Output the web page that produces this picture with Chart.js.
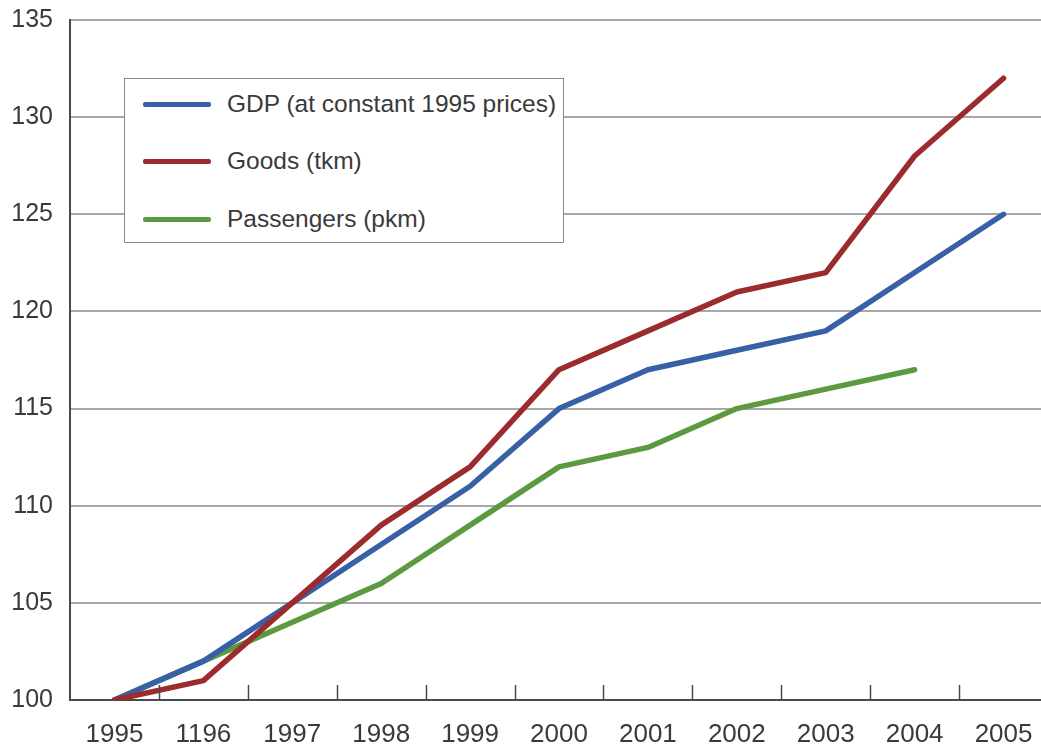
<!DOCTYPE html>
<html>
<head>
<meta charset="utf-8">
<script src="https://cdn.jsdelivr.net/npm/chart.js@4/dist/chart.umd.min.js"></script>
<style>
  body { margin: 0; background: #fff; overflow: hidden; }
  #wrap { position: relative; width: 1041px; height: 749px; overflow: hidden; }
  #leyenda {
    position: absolute; left: 124px; top: 78px; width: 438px; height: 163px;
    background: #fff; border: 1.5px solid #8a8a8a;
    font-family: "Liberation Sans", Arial, sans-serif; font-size: 24.5px; color: #3a3a3a;
  }
  .item { position: absolute; left: 0; height: 30px; display: flex; align-items: center; }
  .muestra { width: 68px; height: 5px; margin-left: 18px; margin-right: 16px; border-radius: 2px; }
</style>
</head>
<body>
<div id="wrap">
  <canvas id="grafico" width="1060" height="749"></canvas>
  <div id="leyenda"></div>
</div>
<script>
// Datos
const anios = ['1995', '1196', '1997', '1998', '1999', '2000', '2001', '2002', '2003', '2004', '2005'];
const gdp = [100, 102, 105, 108, 111, 115, 117, 118, 119, 122, 125];
const goods = [100, 101, 105, 109, 112, 117, 119, 121, 122, 128, 132];
const passengers = [100, 102, 104, 106, 109, 112, 113, 115, 116, 117, null];
const nombres = ['GDP (at constant 1995 prices)', 'Goods (tkm)', 'Passengers (pkm)'];
const colores = ['#3760a6', '#9c2b2e', '#5c9a41'];
const yMin = 100, yMax = 135, yPaso = 5;

// Marcas de eje hacia dentro, entre categorias
const marcasInternas = {
  id: 'marcasInternas',
  afterDraw(chart) {
    const x = chart.scales.x;
    const ctx = chart.ctx;
    const abajo = chart.chartArea.bottom;
    ctx.save();
    ctx.strokeStyle = '#4a4a4a';
    ctx.lineWidth = 1.5;
    for (let i = 1; i < x.ticks.length; i++) {
      const px = Math.round((x.getPixelForTick(i - 1) + x.getPixelForTick(i)) / 2) + 0.5;
      ctx.beginPath();
      ctx.moveTo(px, abajo);
      ctx.lineTo(px, abajo - 15);
      ctx.stroke();
    }
    ctx.restore();
  }
};

const series = [gdp, goods, passengers];
const ordenDibujo = [2, 1, 3]; // Goods encima de GDP, Passengers debajo

const ctx = document.getElementById('grafico').getContext('2d');
const miGrafico = new Chart(ctx, {
  type: 'line',
  data: {
    labels: anios,
    datasets: series.map((s, i) => ({
      label: nombres[i],
      data: s,
      borderColor: colores[i],
      backgroundColor: colores[i],
      borderWidth: 5.5,
      pointRadius: 0,
      tension: 0,
      fill: false,
      spanGaps: false,
      borderJoinStyle: 'round',
      borderCapStyle: 'round',
      order: ordenDibujo[i]
    }))
  },
  options: {
    responsive: false,
    animation: false,
    layout: { padding: { left: 0, right: 12, top: 20, bottom: 0 } },
    plugins: {
      legend: { display: false },
      tooltip: { enabled: false },
      title: { display: false }
    },
    scales: {
      x: {
        offset: true,
        grid: { display: false, drawTicks: false },
        border: { display: true, color: '#4a4a4a', width: 2 },
        ticks: {
          color: '#3a3a3a',
          font: { family: '"Liberation Sans", Arial, sans-serif', size: 26 },
          padding: 19,
          maxRotation: 0,
          autoSkip: false
        },
        afterFit: (scale) => { scale.height = 49; scale.paddingLeft = 0; scale.paddingRight = 0; }
      },
      y: {
        min: yMin,
        max: yMax,
        grid: { color: '#a8a8a8', lineWidth: 2, drawTicks: false },
        border: { display: true, color: '#4a4a4a', width: 2 },
        ticks: {
          stepSize: yPaso,
          color: '#3a3a3a',
          font: { family: '"Liberation Sans", Arial, sans-serif', size: 25 },
          padding: 17
        },
        afterFit: (scale) => { scale.width = 70; scale.paddingTop = 0; scale.paddingBottom = 0; }
      }
    }
  },
  plugins: [marcasInternas]
});

// Leyenda en HTML dentro del area del grafico
const leyenda = document.getElementById('leyenda');
const filasY = [10, 67, 125];
miGrafico.data.datasets.forEach((ds, i) => {
  const fila = document.createElement('div');
  fila.className = 'item';
  fila.style.top = filasY[i] + 'px';
  fila.innerHTML = `<span class="muestra" style="background:${ds.borderColor}"></span><span>${ds.label}</span>`;
  leyenda.appendChild(fila);
});
</script>
</body>
</html>
